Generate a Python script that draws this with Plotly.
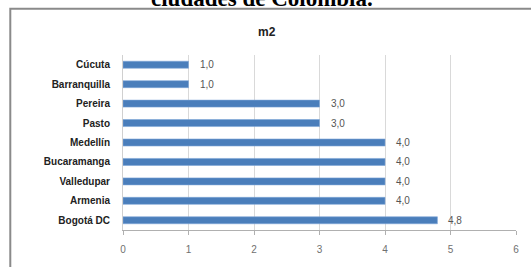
import plotly.graph_objects as go

cities = ["Cúcuta", "Barranquilla", "Pereira", "Pasto", "Medellín",
          "Bucaramanga", "Valledupar", "Armenia", "Bogotá DC"]
values = [1.0, 1.0, 3.0, 3.0, 4.0, 4.0, 4.0, 4.0, 4.8]
x_ticks = [0, 1, 2, 3, 4, 5, 6]
chart_title = "m2"
caption = "ciudades de Colombia."

W, H = 531, 267
L, R, T, B = 123, 14, 55, 30
pw, ph = W - L - R, H - T - B

def px_to_paper_x(px):
    return (px - L) / pw

def px_to_paper_y(py):
    return (H - B - py) / ph

fig = go.Figure()
fig.add_trace(go.Bar(
    x=values, y=cities, orientation="h",
    marker=dict(color="#4a7ebb", line=dict(color="#7ea6d6", width=0.6)),
    width=0.36, hoverinfo="skip",
))

annotations = []
for c, v in zip(cities, values):
    annotations.append(dict(
        x=v, y=c, xref="x", yref="y", text=f"{v:.1f}".replace(".", ","),
        showarrow=False, xanchor="left", yanchor="middle", xshift=9,
        font=dict(family="Liberation Sans", size=10, color="#555555"),
    ))
annotations.append(dict(
    x=px_to_paper_x(267), y=px_to_paper_y(31), xref="paper", yref="paper",
    text=f"<b>{chart_title}</b>", showarrow=False, xanchor="center", yanchor="middle",
    font=dict(family="Liberation Sans", size=12, color="#222222"),
))
annotations.append(dict(
    x=px_to_paper_x(262), y=px_to_paper_y(-4), xref="paper", yref="paper",
    text=f"<b>{caption}</b>", showarrow=False, xanchor="center", yanchor="middle",
    font=dict(family="Liberation Serif", size=23, color="#000000"),
))

fig.update_layout(
    width=W, height=H,
    margin=dict(l=L, r=R, t=T, b=B, pad=0),
    paper_bgcolor="white", plot_bgcolor="white",
    showlegend=False,
    annotations=annotations,
    shapes=[dict(
        type="rect", xref="paper", yref="paper",
        x0=px_to_paper_x(10), x1=px_to_paper_x(545),
        y0=px_to_paper_y(280), y1=px_to_paper_y(7),
        line=dict(color="#8a8a8a", width=2), fillcolor="rgba(0,0,0,0)", layer="below",
    )],
    xaxis=dict(
        range=[0, 6], tickvals=x_ticks, ticktext=[str(t) for t in x_ticks],
        showgrid=True, gridcolor="#d9d9d9", gridwidth=1,
        zeroline=False, showline=True, linecolor="#b0b0b0", linewidth=1,
        ticks="outside", ticklen=4, tickcolor="#b0b0b0",
        tickfont=dict(family="Liberation Sans", size=10, color="#707070"),
        ticklabelstandoff=6,
    ),
    yaxis=dict(
        categoryorder="array", categoryarray=cities, autorange="reversed",
        range=[8.5, -0.5],
        showgrid=False, zeroline=False, showline=True, linecolor="#d0d0d0", linewidth=1,
        ticks="",
        tickfont=dict(family="Liberation Sans", size=10, color="#222222", weight="bold"),
        ticklabelstandoff=10,
    ),
)

fig.write_html("out.html", config={"displayModeBar": False, "staticPlot": True},
               post_script="document.body.style.margin='0';document.body.style.overflow='hidden';")
